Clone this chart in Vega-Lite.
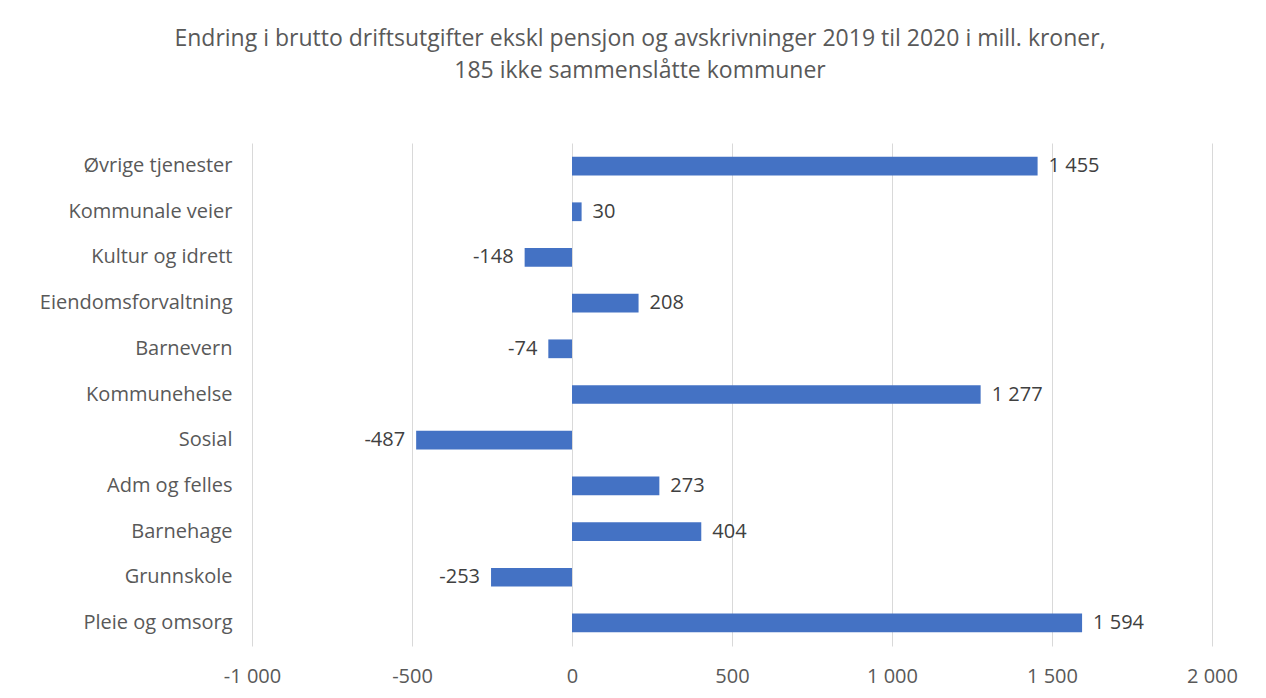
{
  "$schema": "https://vega.github.io/schema/vega-lite/v6.json",
  "autosize": {"type": "none"},
  "width": 960,
  "height": 503,
  "padding": {"left": 252, "top": 143, "right": 54, "bottom": 52},
  "background": "white",
  "title": {
    "text": ["Endring i brutto driftsutgifter ekskl pensjon og avskrivninger 2019 til 2020 i mill. kroner,", "185 ikke sammenslåtte kommuner"],
    "anchor": "middle",
    "frame": "group",
    "dx": -92,
    "offset": 60,
    "font": "Open Sans",
    "fontSize": 23,
    "fontWeight": "normal",
    "color": "#595959",
    "lineHeight": 32
  },
  "data": {
    "values": [
      {"kategori": "Øvrige tjenester", "value": 1455},
      {"kategori": "Kommunale veier", "value": 30},
      {"kategori": "Kultur og idrett", "value": -148},
      {"kategori": "Eiendomsforvaltning", "value": 208},
      {"kategori": "Barnevern", "value": -74},
      {"kategori": "Kommunehelse", "value": 1277},
      {"kategori": "Sosial", "value": -487},
      {"kategori": "Adm og felles", "value": 273},
      {"kategori": "Barnehage", "value": 404},
      {"kategori": "Grunnskole", "value": -253},
      {"kategori": "Pleie og omsorg", "value": 1594}
    ]
  },
  "encoding": {
    "y": {
      "field": "kategori", "type": "nominal", "sort": null, "title": null,
      "scale": {"paddingInner": 0.59, "paddingOuter": 0.3},
      "axis": {"domain": false, "ticks": false, "labelPadding": 20, "labelFontSize": 20, "labelFont": "Open Sans", "labelColor": "#595959", "grid": false, "labelLimit": 400}
    },
    "x": {
      "field": "value", "type": "quantitative", "title": null,
      "scale": {"domain": [-1000, 2000], "nice": false, "zero": false},
      "axis": {"values": [-1000, -500, 0, 500, 1000, 1500, 2000], "format": ",d", "domain": false, "ticks": false, "grid": true, "gridColor": "#d9d9d9", "gridWidth": 1, "labelPadding": 20, "labelFontSize": 20, "labelFont": "Open Sans", "labelColor": "#595959", "labelFlush": false}
    }
  },
  "layer": [
    {"mark": {"type": "bar", "color": "#4472C4"}},
    {
      "transform": [{"filter": "datum.value >= 0"}],
      "mark": {"type": "text", "align": "left", "dx": 11, "font": "Open Sans", "fontSize": 20, "color": "#404040"},
      "encoding": {"text": {"field": "value", "type": "quantitative", "format": ",d"}}
    },
    {
      "transform": [{"filter": "datum.value < 0"}],
      "mark": {"type": "text", "align": "right", "dx": -11, "font": "Open Sans", "fontSize": 20, "color": "#404040"},
      "encoding": {"text": {"field": "value", "type": "quantitative", "format": ",d"}}
    }
  ],
  "config": {
    "view": {"stroke": null},
    "locale": {"number": {"decimal": ",", "thousands": " ", "grouping": [3], "currency": ["", " kr"], "minus": "-"}}
  }
}
